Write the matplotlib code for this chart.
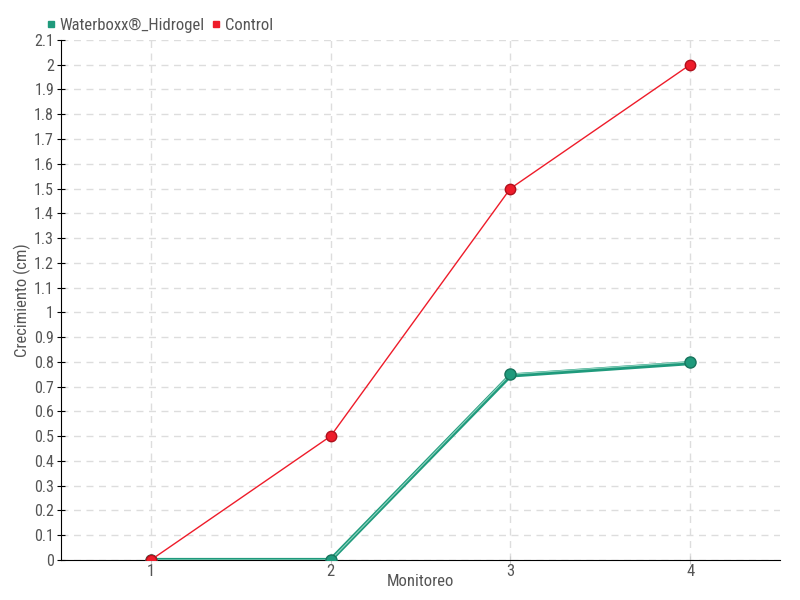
import matplotlib.pyplot as plt
import matplotlib.font_manager as fm
import numpy as np

monitoreo = [1, 2, 3, 4]
waterboxx = [0, 0, 0.75, 0.8]
waterboxx_b = [0, 0, 0.745, 0.795]
control = [0, 0.5, 1.5, 2.0]
yticks = [round(0.1 * i, 1) for i in range(22)]

nombres = set(f.name for f in fm.fontManager.ttflist)
fam = [n for n in ['DejaVu Sans Condensed', 'Liberation Sans Narrow', 'Roboto Condensed'] if n in nombres]
plt.rcParams['font.family'] = fam + ['DejaVu Sans']
stretch = 'normal' if fam else 'condensed'
txt = '#555555'
verde = '#1f9a7c'
rojo = '#ee1c2a'

fig = plt.figure(figsize=(8, 6), dpi=100)
ax = fig.add_axes([0.07625, 0.0667, 0.89875, 0.8667])

ax.plot(monitoreo, waterboxx_b, color=verde, lw=3, zorder=3)
ax.plot(monitoreo, waterboxx, color='#8fd3bf', lw=0.8, zorder=4)
ax.plot(monitoreo, waterboxx, color=verde, lw=0, marker='o', ms=8,
        mec='#17735c', mew=1, zorder=5)
ax.plot(monitoreo, control, color=rojo, lw=1, marker='o', ms=7.5,
        mfc=rojo, mec='#b0101c', mew=1, zorder=6)

ax.set_xlim(0.5, 4.5)
ax.set_ylim(0, 2.1)
ax.set_xticks(monitoreo)
ax.set_yticks(yticks)
ax.set_yticklabels(['%g' % v for v in yticks])
ax.grid(True, color='#dddddd', ls=(0, (5, 4)), lw=1)
ax.set_axisbelow(True)
for s in ['top', 'right']:
    ax.spines[s].set_visible(False)
ax.tick_params(axis='y', direction='inout', length=6, labelsize=11.5, colors='black', labelcolor=txt, pad=2)
ax.tick_params(axis='x', direction='inout', length=6, labelsize=12, colors='#cccccc', labelcolor=txt, pad=0)
ax.set_xlabel('Monitoreo', fontsize=12, color=txt)
ax.set_ylabel('Crecimiento (cm)', fontsize=12, color=txt)
ax.yaxis.set_label_coords(-0.042, 0.5)
ax.xaxis.set_label_coords(0.5, -0.027)
for t in ax.get_xticklabels() + ax.get_yticklabels() + [ax.xaxis.label, ax.yaxis.label]:
    t.set_fontstretch(stretch)

h = [plt.Line2D([], [], ls='', marker='s', ms=5, color=verde),
     plt.Line2D([], [], ls='', marker='s', ms=5, color=rojo)]
leg = fig.legend(h, ['Waterboxx®_Hidrogel', 'Control'], loc='upper left',
                 bbox_to_anchor=(0.037, 0.995), ncol=2, frameon=False, fontsize=12,
                 handletextpad=0.1, columnspacing=0.3, handlelength=0.8, labelcolor=txt)

fig.savefig('out.png')
